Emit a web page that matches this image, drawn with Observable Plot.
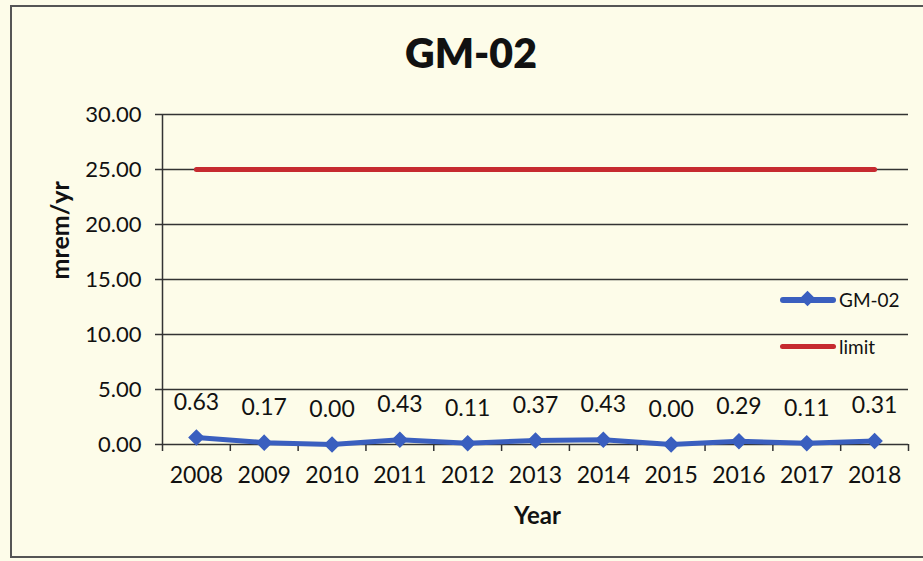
<!DOCTYPE html>
<html>
<head>
<meta charset="utf-8">
<script src="https://cdn.jsdelivr.net/npm/d3@7"></script>
<script src="https://cdn.jsdelivr.net/npm/@observablehq/plot@0.6"></script>
<style>
  html, body { margin: 0; padding: 0; background: #fdfce9; }
  #wrap { position: relative; width: 923px; height: 561px; overflow: hidden; background: #fdfce9; font-family: Lato, sans-serif; }
  #frame { position: absolute; left: 10px; top: 5px; width: 930px; height: 553px; border: 2px solid #555; box-sizing: border-box; pointer-events: none; }
  #title { position: absolute; left: 0; width: 942px; top: 28px; text-align: center; font-weight: 800; font-size: 41px; line-height: 50px; color: #111; }
  .leg { position: absolute; font-size: 19px; color: #111; display: flex; align-items: center; }
  .sw { position: relative; width: 56px; height: 6px; margin-right: 3px; border-radius: 3px; }
  .dia { position: absolute; left: 22px; top: -4px; width: 11px; height: 11px; background: #3a5fbf; transform: rotate(45deg); }
  #chart { position: absolute; left: 0; top: 0; }
</style>
</head>
<body>
<div id="wrap">
  <div id="chart"></div>
  <div id="title">GM-02</div>
  <div class="leg" style="left:780px; top:288px;"><div class="sw" style="background:#3a5fbf"><div class="dia"></div></div>GM-02</div>
  <div class="leg" style="left:780px; top:335px;"><div class="sw" style="background:#c62a2f; height:5px"></div>limit</div>
  <div id="frame"></div>
</div>
<script>
const years = [2008, 2009, 2010, 2011, 2012, 2013, 2014, 2015, 2016, 2017, 2018];
const gm02 = [0.63, 0.17, 0.00, 0.43, 0.11, 0.37, 0.43, 0.00, 0.29, 0.11, 0.31];
const limit = [25, 25, 25, 25, 25, 25, 25, 25, 25, 25, 25];
const yTicks = [0, 5, 10, 15, 20, 25, 30];

const gmData = years.map((year, i) => ({year, value: gm02[i]}));
const limitData = years.map((year, i) => ({year, value: limit[i]}));
const bounds = [years[0] - 0.5, ...years.map(y => y + 0.5)];

const blue = "#3a5fbf";
const red = "#c62a2f";

const chart = Plot.plot({
  width: 923,
  height: 561,
  marginLeft: 162,
  marginRight: 15,
  marginTop: 114,
  marginBottom: 117,
  style: {background: "transparent", fontFamily: "Lato, sans-serif", color: "#111"},
  x: {domain: [bounds[0], bounds[bounds.length - 1]]},
  y: {domain: [0, 30]},
  marks: [
    Plot.ruleY(yTicks.filter(d => d > 0), {stroke: "#333", strokeWidth: 1.5}),
    Plot.axisY({ticks: yTicks, tickFormat: d => d.toFixed(2), tickSize: 7, tickPadding: 14, fontSize: 22, stroke: "#333", strokeWidth: 1.5, label: null}),
    Plot.text(["mrem/yr"], {frameAnchor: "left", dx: -102, rotate: -90, fontSize: 25, fontWeight: "bold"}),
    Plot.axisX({ticks: bounds, tickFormat: () => "", tickSize: 7, stroke: "#333", strokeWidth: 1.5, label: null}),
    Plot.axisX({ticks: years, tickFormat: d => String(d), tickSize: 0, tickPadding: 22, fontSize: 23, label: null}),
    Plot.text(["Year"], {frameAnchor: "bottom", dy: 79, dx: 2, fontSize: 24, fontWeight: "bold"}),
    Plot.ruleX([bounds[0]], {y1: 0, y2: 30, stroke: "#333", strokeWidth: 1.5}),
    Plot.ruleY([0], {stroke: "#333", strokeWidth: 1.5}),
    Plot.line(limitData, {x: "year", y: "value", stroke: red, strokeWidth: 5}),
    Plot.line(gmData, {x: "year", y: "value", stroke: blue, strokeWidth: 5}),
    Plot.dot(gmData, {x: "year", y: "value", symbol: "diamond2", r: 6.5, fill: blue, stroke: blue}),
    Plot.text(gmData, {x: "year", y: "value", text: d => d.value.toFixed(2), dy: -35, fontSize: 23, fill: "#111"})
  ]
});
document.getElementById("chart").appendChild(chart);
</script>
</body>
</html>
